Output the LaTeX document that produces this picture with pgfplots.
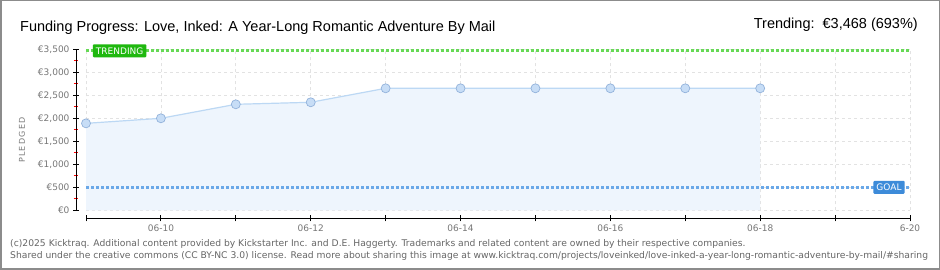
\documentclass[border=0pt]{standalone}
\usepackage{fontspec}
\setmainfont{DejaVu Sans}
\newfontfamily\titlefont{Liberation Sans}
\usepackage{pgfplots}
\pgfplotsset{compat=1.18}
\definecolor{gridc}{HTML}{E2E2E2}
\definecolor{areac}{HTML}{EEF5FD}
\definecolor{linec}{HTML}{BCD8F4}
\definecolor{markc}{HTML}{C7DDF6}
\definecolor{markb}{HTML}{92B2DB}
\definecolor{goalc}{HTML}{6AA8E8}
\definecolor{goalbox}{HTML}{3D8BD9}
\definecolor{trendc}{HTML}{66D955}
\definecolor{trendbox}{HTML}{1FB80F}
\definecolor{labc}{HTML}{777777}
\definecolor{footc}{HTML}{666666}
\begin{document}
\begin{tikzpicture}[x=1pt,y=1pt]
\useasboundingbox (0,0) rectangle (940,270);
\fill[white] (0,0) rectangle (940,270);
\draw[gray!90, line width=1.5pt] (0.75,0.75) rectangle (939.25,269.25);
\node[anchor=base west, inner sep=0pt, font=\titlefont\fontsize{14.5}{16}\selectfont] at (20,238) {Funding Progress: Love, Inked: A Year-Long Romantic Adventure By Mail};
\node[anchor=base east, inner sep=0pt, font=\titlefont\fontsize{14.5}{16}\selectfont] at (918,241) {Trending:\ \ €3,468 (693\%)};
\node[rotate=90, font=\fontsize{8}{9}\selectfont, text=labc] at (22,130) {P\,L\,E\,D\,G\,E\,D};
\node[anchor=base west, inner sep=0pt, font=\fontsize{9.2}{10}\selectfont, text=footc] at (10,23) {(c)2025 Kicktraq. Additional content provided by Kickstarter Inc. and D.E. Haggerty. Trademarks and related content are owned by their respective companies.};
\node[anchor=base west, inner sep=0pt, font=\fontsize{9.2}{10}\selectfont, text=footc] at (10,11) {Shared under the creative commons (CC BY-NC 3.0) license. Read more about sharing this image at www.kicktraq.com/projects/loveinked/love-inked-a-year-long-romantic-adventure-by-mail/\#sharing};
\begin{axis}[
  at={(86pt,59.7pt)}, anchor=south west, scale only axis,
  width=824pt, height=161pt,
  xmin=9, xmax=20, ymin=0, ymax=3500,
  axis x line=bottom, axis y line=left,
  axis line style={-, black, line width=1pt},
  axis y line shift=10pt, axis x line shift=8pt,
  xtick={9,...,20},
  xticklabels={,06-10,,06-12,,06-14,,06-16,,06-18,,6-20},
  ytick={0,500,...,3500},
  yticklabels={€0,€500,{€1,000},{€1,500},{€2,000},{€2,500},{€3,000},{€3,500}},
  minor y tick num=1,
  grid=major, major grid style={dashed, gridc, line width=0.8pt},
  tick align=center, major tick length=6pt, minor tick length=5pt,
  tick style={black, line width=1pt},
  minor tick style={red, line width=1pt},
  ticklabel style={font=\fontsize{9}{10}\selectfont, text=labc},
  clip=false,
]
\addplot[fill=areac, draw=none] coordinates {(9,1890) (10,2000) (11,2304) (12,2348) (13,2652) (14,2652) (15,2652) (16,2652) (17,2652) (18,2652)} \closedcycle;
\addplot[goalc, line width=3pt, dash pattern=on 3pt off 2pt] coordinates {(9,500) (20,500)};
\addplot[trendc, line width=3pt, dash pattern=on 3pt off 2pt] coordinates {(9,3468) (20,3468)};
\addplot[linec, line width=1.2pt, mark=*, mark size=4.5pt, mark options={fill=markc, draw=markb, line width=0.7pt}] coordinates {(9,1890) (10,2000) (11,2304) (12,2348) (13,2652) (14,2652) (15,2652) (16,2652) (17,2652) (18,2652)};
\node[anchor=west, fill=trendbox, text=white, font=\fontsize{9}{10}\selectfont, inner xsep=3pt, inner ysep=2pt, minimum height=13pt, rounded corners=1pt] at (axis cs:9.09,3468) {TRENDING};
\node[anchor=east, fill=goalbox, text=white, font=\fontsize{9}{10}\selectfont, inner xsep=3pt, inner ysep=2pt, minimum height=13pt, rounded corners=1pt] at (axis cs:19.93,500) {GOAL};
\end{axis}
\end{tikzpicture}
\end{document}
